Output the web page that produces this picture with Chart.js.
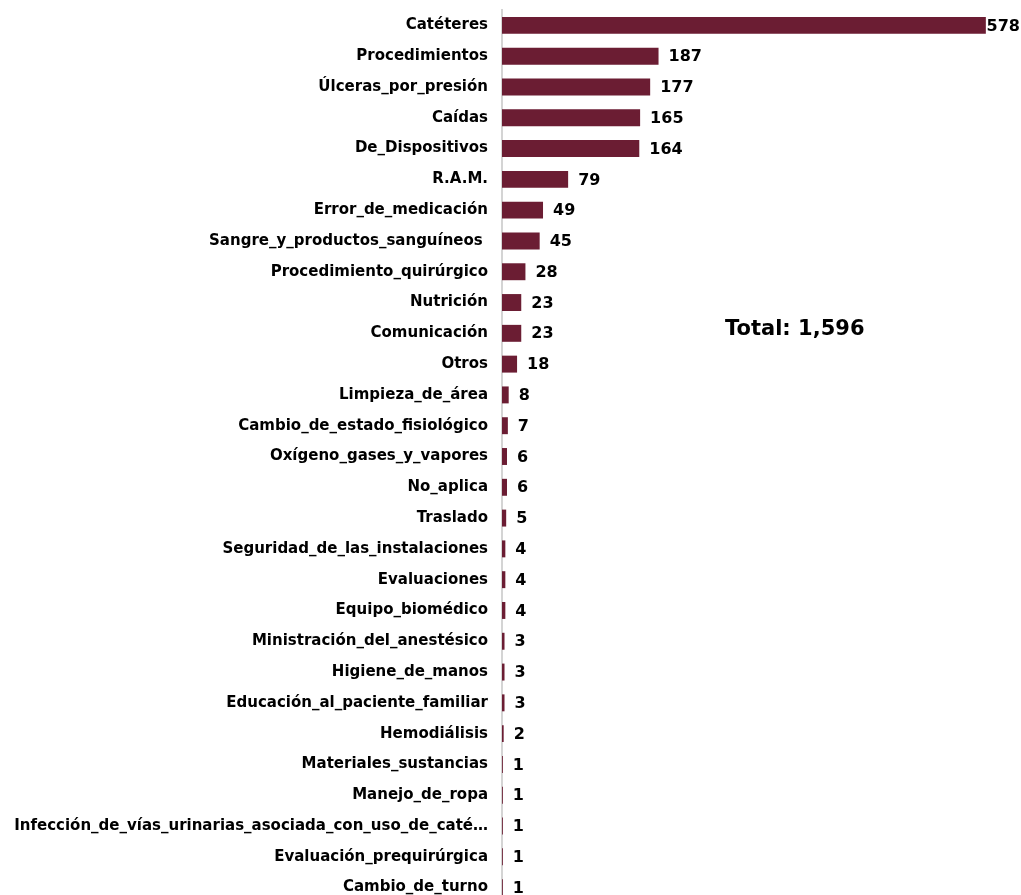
<!DOCTYPE html>
<html>
<head>
<meta charset="utf-8">
<script src="https://cdn.jsdelivr.net/npm/chart.js@4/dist/chart.umd.min.js"></script>
<style>
  html, body { margin: 0; padding: 0; background: #fff; overflow: hidden; }
  #wrap { width: 1021px; height: 895px; overflow: hidden; }
  #myChart { display: block; margin-top: -13px; }
</style>
</head>
<body>
<div id="wrap"><canvas id="myChart" width="1021" height="939"></canvas></div>
<script>
'use strict';
let categories = [
    'Catéteres', 'Procedimientos', 'Úlceras_por_presión', 'Caídas', 'De_Dispositivos',
    'R.A.M.', 'Error_de_medicación', 'Sangre_y_productos_sanguíneos ', 'Procedimiento_quirúrgico',
    'Nutrición', 'Comunicación', 'Otros', 'Limpieza_de_área', 'Cambio_de_estado_fisiológico',
    'Oxígeno_gases_y_vapores', 'No_aplica', 'Traslado', 'Seguridad_de_las_instalaciones',
    'Evaluaciones', 'Equipo_biomédico', 'Ministración_del_anestésico', 'Higiene_de_manos',
    'Educación_al_paciente_familiar', 'Hemodiálisis', 'Materiales_sustancias', 'Manejo_de_ropa',
    'Infección_de_vías_urinarias_asociada_con_uso_de_catéter', 'Evaluación_prequirúrgica', 'Cambio_de_turno'
];
let eventCounts = [578, 187, 177, 165, 164, 79, 49, 45, 28, 23, 23, 18, 8, 7, 6, 6, 5, 4, 4, 4, 3, 3, 3, 2, 1, 1, 1, 1, 1];
let totalLabel = 'Total: ';

let barColor = '#6b1d33';
let fontName = '"DejaVu Sans", sans-serif';
let maxLabelChars = 52;

// writes the count next to the end of each bar
let valueLabels = {
    id: 'valueLabels',
    afterDatasetsDraw(chart) {
        let ctx = chart.ctx;
        let meta = chart.getDatasetMeta(0);
        ctx.save();
        ctx.font = 'bold 16px ' + fontName;
        ctx.fillStyle = '#000';
        ctx.textBaseline = 'middle';
        ctx.textAlign = 'left';
        meta.data.forEach(function (bar, i) {
            let txt = String(eventCounts[i]);
            let w = ctx.measureText(txt).width;
            let x = Math.min(bar.x + 10, chart.width - w - 1);
            ctx.fillText(txt, x, bar.y + 1);
        });
        // total box
        let total = eventCounts.reduce(function (a, b) { return a + b; }, 0);
        ctx.font = 'bold 21px ' + fontName;
        ctx.textAlign = 'left';
        ctx.fillText(totalLabel + total.toLocaleString('en-US'), 725, 343);
        ctx.restore();
    }
};

let ctx = document.getElementById('myChart').getContext('2d');
let chart = new Chart(ctx, {
    type: 'bar',
    data: {
        labels: categories,
        datasets: [{
            data: eventCounts,
            backgroundColor: barColor,
            borderWidth: 0,
            barPercentage: 0.55,
            categoryPercentage: 1
        }]
    },
    options: {
        indexAxis: 'y',
        responsive: false,
        animation: false,
        layout: { padding: 0 },
        plugins: {
            legend: { display: false },
            tooltip: { enabled: false }
        },
        scales: {
            x: {
                min: 0,
                max: 620,
                display: false,
                grid: { display: false }
            },
            y: {
                grid: { display: false, drawTicks: false },
                border: { display: true, color: '#d4d4d4', width: 2 },
                afterFit: function (scale) { scale.width = 502; },
                ticks: {
                    color: '#000',
                    padding: 14,
                    autoSkip: false,
                    font: { family: fontName, size: 15, weight: 'bold' },
                    callback: function (value) {
                        let name = categories[value];
                        if (name.length > maxLabelChars) {
                            return name.slice(0, maxLabelChars) + '…';
                        }
                        return name;
                    }
                }
            }
        }
    },
    plugins: [valueLabels]
});
</script>
</body>
</html>
